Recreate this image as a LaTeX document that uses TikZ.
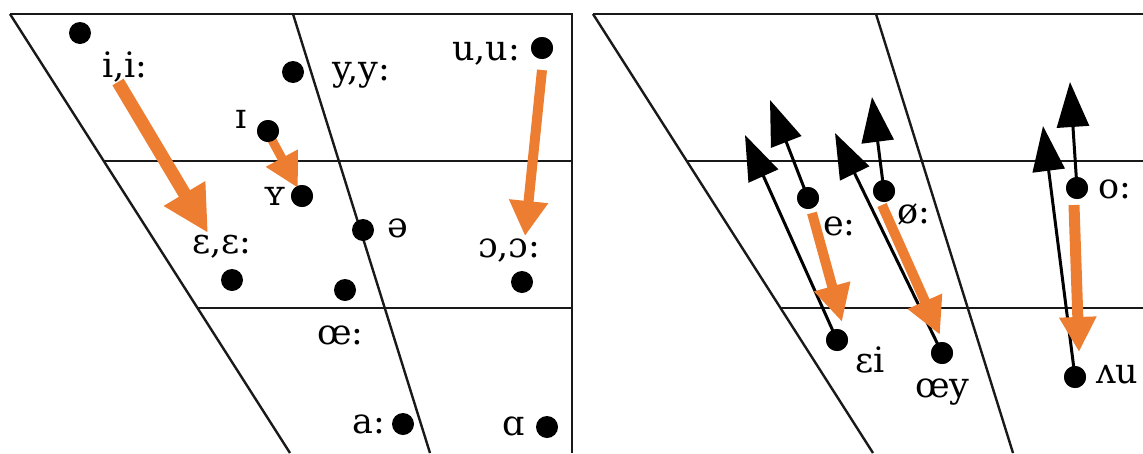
\documentclass[tikz,border=0pt]{standalone}
\usepackage{fontspec}
\setmainfont{DejaVu Serif}
\usetikzlibrary{arrows.meta}
\definecolor{vorange}{HTML}{ED7D31}
\begin{document}
\begin{tikzpicture}[x=1pt,y=-1pt,
  frame/.style={line width=2.4pt, black!90},
  dot/.style={circle, fill=black, inner sep=0pt, minimum size=22pt},
  lbl/.style={anchor=base west, inner sep=0pt, font=\fontsize{35}{40}\selectfont},
  barrow/.style={line width=3pt, -{Triangle[length=45pt,width=32pt]}},
  oarrow/.style={draw=vorange, fill=vorange, line width=#1},
]
\useasboundingbox (0,0) rectangle (1143,453);
% ---------- left chart frame
\draw[frame] (10,14) -- (572,14) -- (572,453);
\draw[frame] (10,14) -- (290,453);
\draw[frame] (293,14) -- (430,453);
\draw[frame] (104,161) -- (572,161);
\draw[frame] (198,308) -- (572,308);
% ---------- right chart frame
\draw[frame] (593,14) -- (1143,14);
\draw[frame] (593,14) -- (873,453);
\draw[frame] (876,14) -- (1013,453);
\draw[frame] (687,161) -- (1143,161);
\draw[frame] (781,308) -- (1143,308);

% ---------- left dots
\node[dot] (dhi) at (80,33) {};
\node[dot] (dy) at (293,72) {};
\node[dot] (du) at (542,48) {};
\node[dot] (dI) at (268,131) {};
\node[dot] (dY) at (302,196) {};
\node[dot] (deps) at (232,280) {};
\node[dot] (dschwa) at (363,230) {};
\node[dot] (doe) at (345,290) {};
\node[dot] (dopen) at (522,282) {};
\node[dot] (da) at (403,424) {};
\node[dot] (dalpha) at (547,427) {};
% ---------- right dots
\node[dot] (re) at (808,198) {};
\node[dot] (roe) at (884,191) {};
\node[dot] (ro) at (1077,188) {};
\node[dot] (rei) at (837,340) {};
\node[dot] (roey) at (942,353) {};
\node[dot] (rau) at (1075,377) {};

% ---------- black arrows (right)
\coordinate (t1) at (745,135);
\coordinate (t2) at (770,100);
\coordinate (t3) at (835,133);
\coordinate (t4) at (872,97);
\coordinate (t5) at (1043,126);
\coordinate (t6) at (1070,82);
\draw[barrow] (rei.center) -- (t1);
\draw[barrow] (re.center) -- (t2);
\draw[barrow] (roey.center) -- (t3);
\draw[barrow] (roe.center) -- (t4);
\draw[barrow] (rau.center) -- (t5);
\draw[barrow] (ro.center) -- (t6);

% ---------- orange arrows
\coordinate (o1s) at (118,82);   \coordinate (o1e) at (208,233);
\coordinate (o2s) at (272,140);  \coordinate (o2e) at (298,188);
\coordinate (o3s) at (542,70);   \coordinate (o3e) at (525,236);
\coordinate (o4s) at (812,213);  \coordinate (o4e) at (842,322);
\coordinate (o5s) at (882,205);  \coordinate (o5e) at (940,335);
\coordinate (o6s) at (1074,205); \coordinate (o6e) at (1079,352);
\draw[oarrow=13pt, -{Triangle[length=46pt,width=45pt]}] (o1s) -- (o1e);
\draw[oarrow=9pt, -{Triangle[length=34pt,width=34pt]}] (o2s) -- (o2e);
\draw[oarrow=10pt, -{Triangle[length=35pt,width=37pt]}] (o3s) -- (o3e);
\draw[oarrow=10pt, -{Triangle[length=37pt,width=35pt]}] (o4s) -- (o4e);
\draw[oarrow=10pt, -{Triangle[length=37pt,width=35pt]}] (o5s) -- (o5e);
\draw[oarrow=11pt, -{Triangle[length=35pt,width=35pt]}] (o6s) -- (o6e);

% redraw dots on top
\foreach \n in {dI,dY,du,re,roe,ro,rei,roey,rau}{\fill (\n) circle (11pt);}

% ---------- left labels
\node[lbl] (li) at (102,77) {i,i:};
\node[lbl] (ly) at (332,80) {y,y:};
\node[lbl] (lu) at (452,60) {u,u:};
\node[lbl] (lI) at (235,128) {ɪ};
\node[lbl] (lY) at (263,205) {ʏ};
\node[lbl] (leps) at (192,253) {ɛ,ɛ:};
\node[lbl] (lschwa) at (387,237) {ə};
\node[lbl] (lopen) at (478,257) {ɔ,ɔ:};
\node[lbl] (loe) at (317,344) {œ:};
\node[lbl] (la) at (352,433) {a:};
\node[lbl] (lalpha) at (502,435) {ɑ};
% ---------- right labels
\node[lbl] (le) at (823,235) {e:};
\node[lbl] (loslash) at (897,223) {ø:};
\node[lbl] (lo) at (1098,198) {o:};
\node[lbl] (lei) at (855,372) {ɛi};
\node[lbl] (loey) at (915,397) {œy};
\node[lbl] (lau) at (1096,383) {ʌu};
\end{tikzpicture}
\end{document}
